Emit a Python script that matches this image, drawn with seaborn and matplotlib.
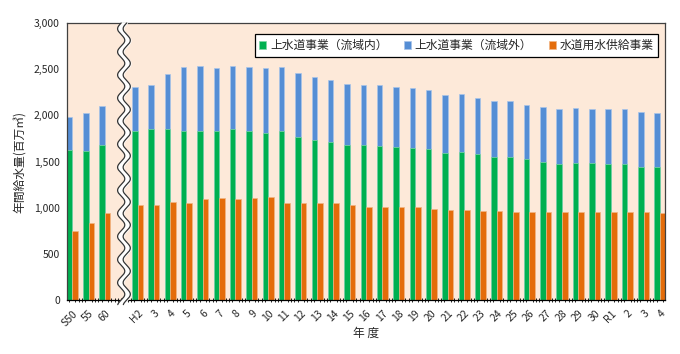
import numpy as np
import pandas as pd
import seaborn as sns
import matplotlib
matplotlib.use('Agg')
import matplotlib.pyplot as plt
from matplotlib.ticker import MultipleLocator, FuncFormatter

sns.set_style('white')
plt.rcParams['font.family'] = ['Noto Sans CJK JP', 'DejaVu Sans']

years = ['S50', '55', '60', 'H2', '3', '4', '5', '6', '7', '8', '9', '10', '11', '12',
         '13', '14', '15', '16', '17', '18', '19', '20', '21', '22', '23', '24', '25',
         '26', '27', '28', '29', '30', 'R1', '2', '3', '4']
# 上水道事業(流域内)
inner = [1628, 1610, 1682, 1834, 1848, 1848, 1826, 1834, 1826, 1848, 1826, 1808, 1826, 1768,
         1736, 1714, 1682, 1682, 1671, 1653, 1642, 1631, 1592, 1599, 1577, 1552, 1552,
         1527, 1498, 1476, 1484, 1484, 1476, 1476, 1444, 1444]
# 上水道事業(流域外)
outer = [354, 411, 422, 476, 484, 600, 693, 703, 682, 689, 693, 700, 693, 690,
         682, 672, 661, 650, 661, 657, 657, 647, 628, 628, 611, 606, 606,
         588, 595, 596, 599, 588, 588, 588, 588, 577]
# 水道用水供給事業
supply = [743, 837, 938, 1032, 1032, 1065, 1054, 1094, 1105, 1094, 1105, 1115, 1046, 1046,
          1046, 1046, 1025, 1011, 1011, 1011, 1011, 989, 978, 978, 967, 967, 956,
          949, 949, 949, 956, 956, 956, 956, 949, 938]

names = ['上水道事業（流域内）', '上水道事業（流域外）', '水道用水供給事業']
green = '#00B050'
blue = '#558ED5'
orange = '#E46C0A'

# slot 3 is left empty for the axis break
pos = np.array([0, 1, 2] + list(range(4, 37)), dtype=float)
df = pd.DataFrame({'pos': pos, 'inner': inner, 'outer': outer, 'supply': supply})
df['total'] = df['inner'] + df['outer']

fig = plt.figure(figsize=(6.8, 3.54), dpi=100)
ax = fig.add_axes([0.0985, 0.1525, 0.8795, 0.7825])
ax.set_facecolor('#FDE9D9')

w = 0.34
sns.barplot(x=df['pos'] - w / 2, y=df['total'], native_scale=True, width=w, color=blue,
            saturation=1, errorbar=None, edgecolor='#A9C4EA', linewidth=0.5, ax=ax, label=names[1])
sns.barplot(x=df['pos'] - w / 2, y=df['inner'], native_scale=True, width=w, color=green,
            saturation=1, errorbar=None, edgecolor='#7FD7A7', linewidth=0.5, ax=ax, label=names[0])
sns.barplot(x=df['pos'] + w / 2, y=df['supply'], native_scale=True, width=w, color=orange,
            saturation=1, errorbar=None, edgecolor='#F1B584', linewidth=0.5, ax=ax, label=names[2])

ax.set_xlim(-0.32, 36.31)
ax.set_ylim(0, 3000)
ax.yaxis.set_major_locator(MultipleLocator(500))
ax.yaxis.set_major_formatter(FuncFormatter(lambda v, p: f'{int(v):,}'))
ax.set_xticks(pos)
ax.set_xticklabels(years, rotation=45, ha='right', rotation_mode='anchor')
ax.xaxis.set_minor_locator(MultipleLocator(0.2))
ax.tick_params(axis='x', which='major', length=0, labelsize=7.5, pad=6)
ax.tick_params(axis='x', which='minor', length=2.5, width=0.6, direction='inout',
               color='black', bottom=True)
ax.tick_params(axis='y', length=0, labelsize=7.5, pad=5)
for s in ax.spines.values():
    s.set_visible(True)
    s.set_color('#404040')
    s.set_linewidth(0.9)
ax.spines['bottom'].set_color('black')

ax.set_xlabel('年 度', fontsize=8.5, labelpad=-1)
ax.set_ylabel('年間給水量(百万㎥)', fontsize=8.5, labelpad=6)

# wavy axis break between 60 and H2
yy = np.linspace(-50, 3000, 600)
xc = 3.17 + 0.22 * np.sin(2 * np.pi * yy / 250)
ax.fill_betweenx(yy, xc - 0.17, xc + 0.17, color='white', clip_on=False, zorder=5)
ax.plot(xc - 0.17, yy, color='#333333', lw=0.9, clip_on=False, zorder=6)
ax.plot(xc + 0.17, yy, color='#333333', lw=0.9, clip_on=False, zorder=6)

h, l = ax.get_legend_handles_labels()
order = [l.index(n) for n in names]
leg = ax.legend([h[i] for i in order], [l[i] for i in order], loc='upper right',
                bbox_to_anchor=(0.998, 0.98), ncol=3, fontsize=8.5, frameon=True,
                fancybox=False, edgecolor='black', framealpha=1, handlelength=0.6,
                handleheight=0.6, handletextpad=0.3, columnspacing=1.4, borderpad=0.4)
leg.get_frame().set_linewidth(0.9)

fig.savefig('out.png', dpi=100)
